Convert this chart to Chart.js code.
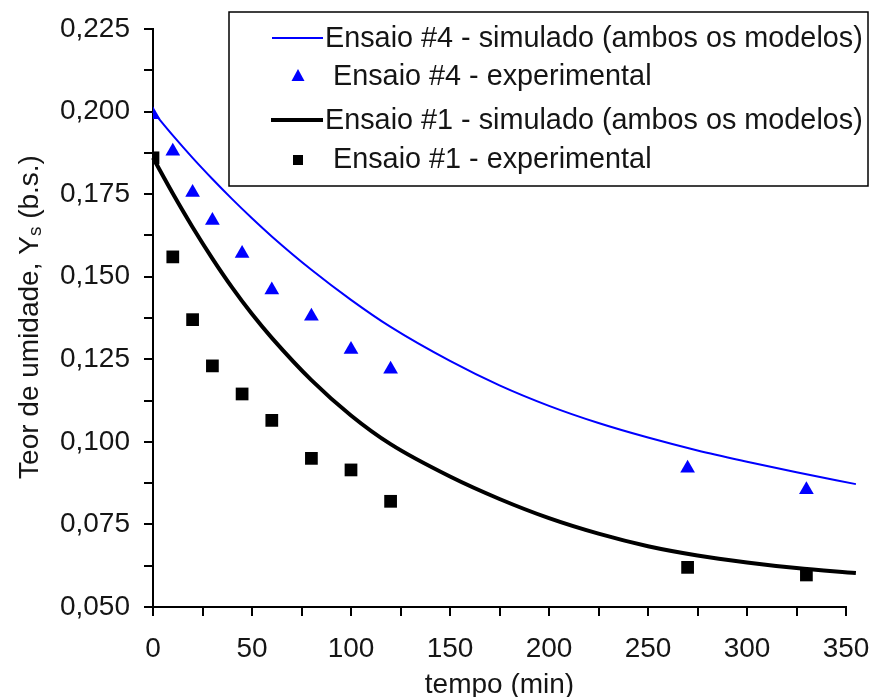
<!DOCTYPE html>
<html lang="pt">
<head>
<meta charset="UTF-8">
<title>Teor de umidade x tempo</title>
<script src="https://cdn.jsdelivr.net/npm/chart.js"></script>
<style>
  html, body { margin: 0; padding: 0; background: #fff; }
  #wrap { width: 871px; height: 697px; position: relative; }
</style>
</head>
<body>
<div id="wrap"><canvas id="dryingChart" width="871" height="697"></canvas></div>
<script>
  // experimental points (min, Ys)
  const tempoExp = [0, 10, 20, 30, 45, 60, 80, 100, 120, 270, 330];
  const ensaio4Exp = [0.199, 0.188, 0.1755, 0.167, 0.157, 0.146, 0.138, 0.128, 0.122, 0.092, 0.0855];
  const ensaio1Exp = [0.186, 0.156, 0.137, 0.123, 0.1145, 0.1065, 0.095, 0.0915, 0.082, 0.062, 0.0597];

  // simulated curves
  const tempoSim = [0, 10, 20, 30, 40, 50, 60, 80, 100, 120, 150, 175, 200, 225, 250, 275, 300, 325, 355];
  const ensaio4Sim = [0.200, 0.1928, 0.1860, 0.1796, 0.1735, 0.1677, 0.1622, 0.1521, 0.1430, 0.1348, 0.1245, 0.1171, 0.1109, 0.1057, 0.1013, 0.0974, 0.0940, 0.0908, 0.0872];
  const ensaio1Sim = [0.186, 0.1752, 0.1650, 0.1555, 0.1467, 0.1387, 0.1315, 0.1187, 0.1080, 0.0993, 0.0895, 0.0827, 0.0769, 0.0722, 0.0684, 0.0656, 0.0635, 0.0618, 0.0603];

  const xTicks = [0, 25, 50, 75, 100, 125, 150, 175, 200, 225, 250, 275, 300, 325, 350];
  const yTicks = [0.05, 0.0625, 0.075, 0.0875, 0.1, 0.1125, 0.125, 0.1375, 0.15, 0.1625, 0.175, 0.1875, 0.2, 0.2125, 0.225];

  const labels = [
    'Ensaio #4 - simulado (ambos os modelos)',
    'Ensaio #4 - experimental',
    'Ensaio #1 - simulado (ambos os modelos)',
    'Ensaio #1 - experimental'
  ];

  const FONT = "'Liberation Sans', Arial, sans-serif";
  const TXT = '#151515';
  const BLUE = '#0000ff';

  const pts = (xs, ys) => xs.map((x, i) => ({ x: x, y: ys[i] }));

  // legend box + y title with subscript, drawn on the canvas
  const extras = {
    id: 'extras',
    afterDraw(chart) {
      const ctx = chart.ctx;
      ctx.save();
      // y axis title
      ctx.translate(30, 317);
      ctx.rotate(-Math.PI / 2);
      ctx.fillStyle = TXT;
      ctx.textBaseline = 'middle';
      const p1 = 'Teor de umidade, Y', p2 = 's', p3 = ' (b.s.)';
      ctx.font = '28px ' + FONT;
      const w1 = ctx.measureText(p1).width, w3 = ctx.measureText(p3).width;
      ctx.font = '19px ' + FONT;
      const w2 = ctx.measureText(p2).width;
      let x0 = -(w1 + w2 + w3) / 2;
      ctx.font = '28px ' + FONT;
      ctx.textAlign = 'left';
      ctx.fillText(p1, x0, 0);
      ctx.font = '19px ' + FONT;
      ctx.fillText(p2, x0 + w1, 6);
      ctx.font = '28px ' + FONT;
      ctx.fillText(p3, x0 + w1 + w2, 0);
      ctx.restore();

      // legend
      ctx.save();
      ctx.fillStyle = '#fff';
      ctx.fillRect(229, 12, 639, 174);
      ctx.strokeStyle = '#000';
      ctx.lineWidth = 1.5;
      ctx.strokeRect(229, 12, 639, 174);
      ctx.font = '28.8px ' + FONT;
      ctx.fillStyle = TXT;
      ctx.textBaseline = 'middle';
      ctx.textAlign = 'left';
      // row 1
      ctx.strokeStyle = BLUE; ctx.lineWidth = 2;
      ctx.beginPath(); ctx.moveTo(272, 38); ctx.lineTo(323, 38); ctx.stroke();
      ctx.fillText(labels[0], 325, 39);
      // row 2
      ctx.fillStyle = BLUE;
      ctx.beginPath(); ctx.moveTo(298, 69); ctx.lineTo(304.5, 81); ctx.lineTo(291.5, 81); ctx.closePath(); ctx.fill();
      ctx.fillStyle = TXT;
      ctx.fillText(labels[1], 333, 77);
      // row 3
      ctx.strokeStyle = '#000'; ctx.lineWidth = 4;
      ctx.beginPath(); ctx.moveTo(271, 120); ctx.lineTo(323, 120); ctx.stroke();
      ctx.fillText(labels[2], 325, 121);
      // row 4
      ctx.fillStyle = '#000';
      ctx.fillRect(293, 155, 10, 10);
      ctx.fillStyle = TXT;
      ctx.fillText(labels[3], 333, 160);
      ctx.restore();
    }
  };

  new Chart(document.getElementById('dryingChart'), {
    type: 'scatter',
    data: {
      datasets: [
        {
          label: labels[0],
          data: pts(tempoSim, ensaio4Sim),
          showLine: true,
          borderColor: BLUE,
          borderWidth: 2,
          pointRadius: 0,
          cubicInterpolationMode: 'monotone',
          clip: false,
          order: 2
        },
        {
          label: labels[1],
          data: pts(tempoExp, ensaio4Exp),
          pointStyle: 'triangle',
          pointRadius: 8.5,
          backgroundColor: BLUE,
          borderColor: BLUE,
          borderWidth: 0,
          order: 1
        },
        {
          label: labels[2],
          data: pts(tempoSim, ensaio1Sim),
          showLine: true,
          borderColor: '#000',
          borderWidth: 4,
          pointRadius: 0,
          cubicInterpolationMode: 'monotone',
          clip: false,
          order: 2
        },
        {
          label: labels[3],
          data: pts(tempoExp, ensaio1Exp),
          pointStyle: 'rect',
          pointRadius: 9,
          backgroundColor: '#000',
          borderColor: '#000',
          borderWidth: 0,
          order: 1
        }
      ]
    },
    options: {
      responsive: false,
      animation: false,
      events: [],
      layout: { padding: { left: 0, top: 29, right: 25, bottom: 0 } },
      plugins: {
        legend: { display: false },
        tooltip: { enabled: false }
      },
      scales: {
        x: {
          type: 'linear',
          min: 0,
          max: 350,
          afterBuildTicks: s => { s.ticks = xTicks.map(v => ({ value: v })); },
          afterFit: s => { s.height = 90; s.paddingLeft = 0; s.paddingRight = 0; },
          ticks: {
            autoSkip: false,
            maxRotation: 0,
            padding: 16,
            color: TXT,
            font: { family: FONT, size: 28 },
            callback: v => (v % 50 === 0 ? String(v) : '')
          },
          grid: { drawOnChartArea: false, color: '#000', tickLength: 9, lineWidth: 2 },
          border: { color: '#000', width: 2 },
          title: {
            display: true,
            text: 'tempo (min)',
            color: TXT,
            font: { family: FONT, size: 28, lineHeight: 1 },
            padding: { top: 0, bottom: -2 }
          }
        },
        y: {
          type: 'linear',
          min: 0.05,
          max: 0.225,
          afterBuildTicks: s => { s.ticks = yTicks.map(v => ({ value: v })); },
          afterFit: s => { s.width = 153; s.paddingTop = 0; s.paddingBottom = 0; },
          ticks: {
            autoSkip: false,
            padding: 14,
            color: TXT,
            font: { family: FONT, size: 28 },
            callback: v => {
              const q = v * 40;
              if (Math.abs(q - Math.round(q)) > 1e-6) return '';
              return v.toFixed(3).replace('.', ',');
            }
          },
          grid: { drawOnChartArea: false, color: '#000', tickLength: 9, lineWidth: 2 },
          border: { color: '#000', width: 2 }
        }
      }
    },
    plugins: [extras]
  });
</script>
</body>
</html>
